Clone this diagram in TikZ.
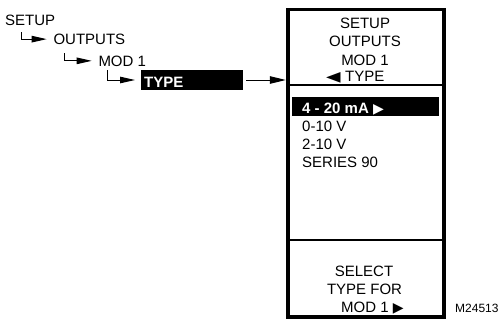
\documentclass[tikz,border=0pt]{standalone}
\usepackage{fontspec}
\setmainfont{Liberation Sans}
\newfontfamily\symfont{DejaVu Sans}
\usetikzlibrary{arrows.meta}
\newcommand{\rtri}{{\symfont\mdseries\fontsize{14}{14}\selectfont ▶}}
\newcommand{\ltri}{\makebox[11pt][l]{\scalebox{1.35}[1]{\symfont\fontsize{14}{14}\selectfont ◀}}}
\begin{document}
\begin{tikzpicture}[x=1pt,y=-1pt,
  txt/.style={inner sep=0pt, anchor=base west, font=\fontsize{15}{18}\selectfont},
  ctxt/.style={inner sep=0pt, anchor=base, font=\fontsize{15}{18}\selectfont},
  btxt/.style={inner sep=0pt, anchor=base west, text=white, font=\fontsize{15}{18}\selectfont\bfseries},
  hook/.style={line width=1pt, -{Triangle[length=15pt,width=6.5pt]}},
  arr/.style={line width=1pt, -{Triangle[length=16pt,width=7.5pt]}},
  divider/.style={line width=1.3pt}
]
\useasboundingbox (0,0) rectangle (500,324);
% menu path
\node[txt] (setup) at (5,25) {SETUP};
\node[txt] (outputs) at (53.3,44.3) {OUTPUTS};
\node[txt] (mod) at (98.3,66) {MOD 1};
\node[fill=black, inner sep=0pt, outer sep=0pt, minimum width=102.6pt, minimum height=20pt] (typebox) at (192,80) {};
\node[btxt] (typetxt) at (144,87.3) {TYPE};
\coordinate (h1) at (21,32);
\coordinate (h2) at (64.5,53);
\coordinate (h3) at (107.3,70);
\draw[hook] (h1) |- ([xshift=-6.6pt]outputs.west);
\draw[hook] (h2) |- ([xshift=-6.6pt]mod.west);
\draw[hook] (h3) |- ([xshift=-5.7pt]typebox.west);
% panel
\node[draw, line width=3.5pt, inner sep=0pt, outer sep=0pt, minimum width=156pt, minimum height=307.7pt] (panel) at (366,163.2) {};
\draw[arr, shorten >=2.2pt] ([xshift=2.7pt]typebox.east) -- (typebox.east -| panel.west);
\coordinate (d1) at (0,85);
\coordinate (d2) at (0,240);
\draw[divider] (panel.west |- d1) -- (panel.east |- d1);
\draw[divider] (panel.west |- d2) -- (panel.east |- d2);
% header
\node[ctxt] (hs) at (365,28.3) {SETUP};
\node[ctxt] (ho) at (365,46.7) {OUTPUTS};
\node[ctxt] (hm) at (365,65) {MOD 1};
\node[txt] (ht) at (326,81.7) {\ltri\hspace{8pt}TYPE};
% list
\node[fill=black, inner sep=0pt, outer sep=0pt, minimum width=147pt, minimum height=19pt] (sel) at (365.5,106.5) {};
\node[btxt] (l1) at (302,113.3) {4 - 20 mA \rtri};
\node[txt] (l2) at (302,131.7) {0-10 V};
\node[txt] (l3) at (302,149.3) {2-10 V};
\node[txt] (l4) at (302,167.7) {SERIES 90};
% footer
\node[ctxt] (f1) at (364,276) {SELECT};
\node[ctxt] (f2) at (364.5,294.3) {TYPE FOR};
\node[txt] (f3) at (341,312.7) {MOD 1 \rtri};
\node[inner sep=0pt, anchor=base west, font=\fontsize{12}{12}\selectfont] (code) at (455,312.7) {M24513};
\end{tikzpicture}
\end{document}
